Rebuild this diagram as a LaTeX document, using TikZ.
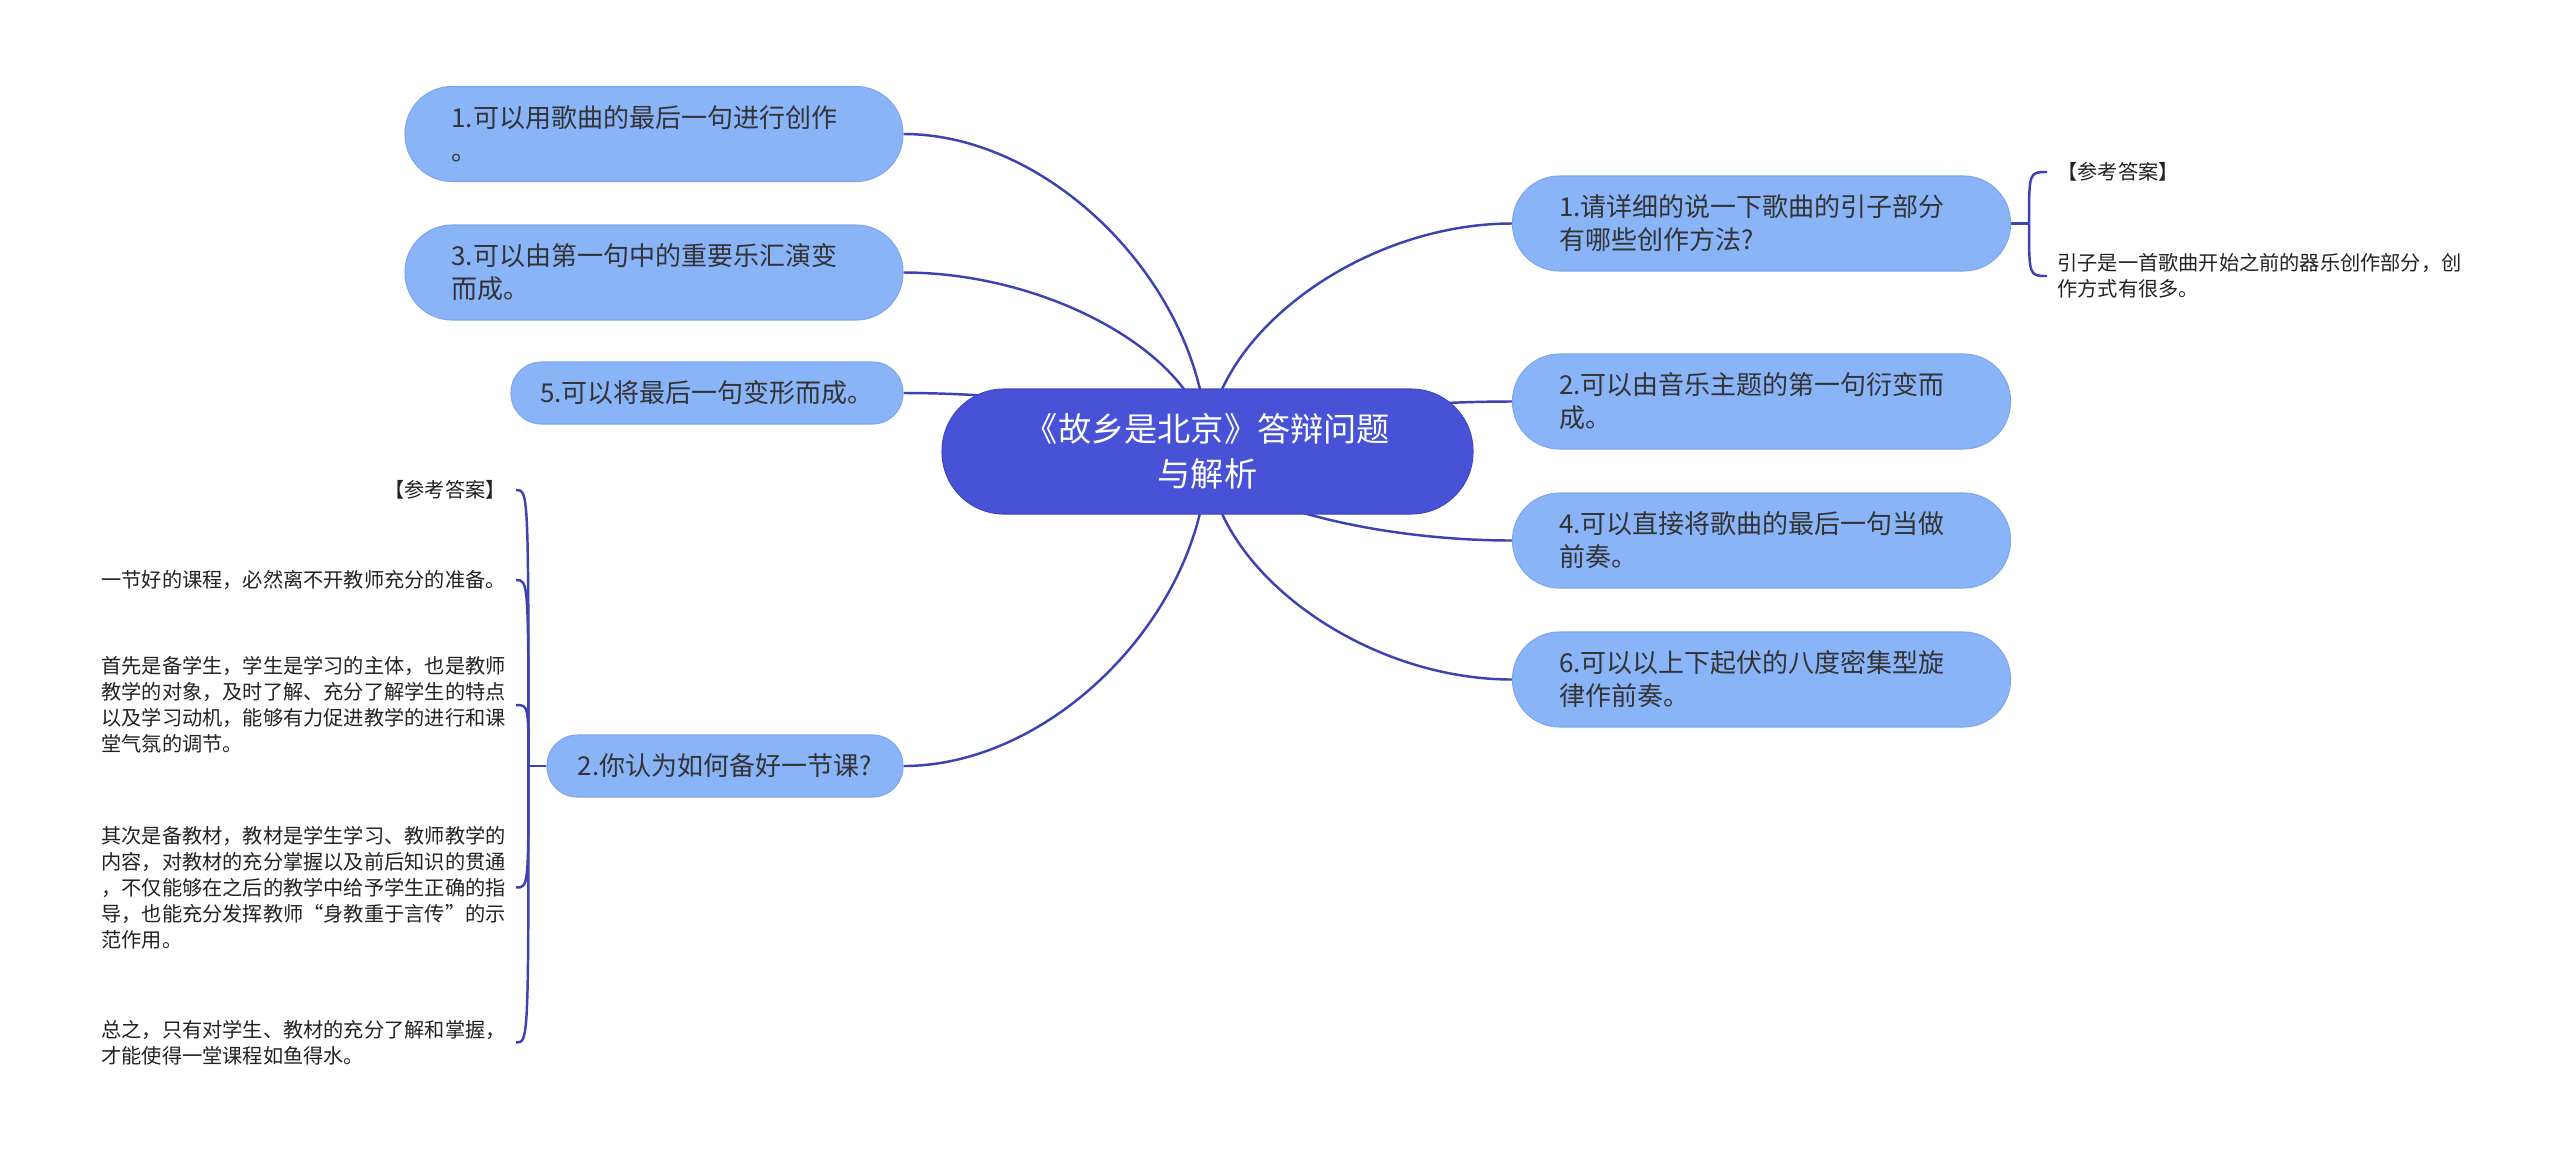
\documentclass[tikz,border=0pt]{standalone}
\usepackage{fontspec}
\newfontfamily\cjk{Noto Sans CJK SC}
\usetikzlibrary{positioning,calc,backgrounds}
\definecolor{rootfill}{HTML}{4752D6}
\definecolor{rootline}{HTML}{3E48C2}
\definecolor{topicfill}{HTML}{8AB4F8}
\definecolor{topicline}{HTML}{7EA6EC}
\definecolor{linkblue}{HTML}{3B43B3}
\definecolor{textgray}{HTML}{333333}
\definecolor{notegray}{HTML}{222222}

\tikzset{
  mainidea/.style={draw=rootline, fill=rootfill, line width=0.6pt, rounded corners=1.24cm,
    minimum width=10.62cm, minimum height=2.5cm, text=white, align=center,
    font=\cjk\fontsize{18.9}{25.6}\selectfont},
  topic/.style={draw=topicline, fill=topicfill, line width=0.6pt, rounded corners=0.94cm,
    minimum width=9.96cm, minimum height=1.9cm, text width=8.1cm, align=left, inner sep=0pt,
    text=textgray, font=\cjk\fontsize{14.8}{18.8}\selectfont},
  pill/.style={rounded corners=0.61cm, minimum height=1.24cm, align=center},
  note/.style={inner sep=0.2cm, align=left, text=notegray, font=\cjk\fontsize{11.5}{14.8}\selectfont},
  link/.style={draw=linkblue, line width=1.4pt},
  branch/.style={to path={.. controls ($(\tikztostart)!0.5!(\tikztostart|-\tikztotarget)$)
    and ($(\tikztotarget)!0.5!(\tikztostart|-\tikztotarget)$) .. (\tikztotarget)}},
  bracehook/.style={to path={.. controls (\tikztostart|-\tikztotarget)
    and (\tikztostart|-\tikztotarget) .. (\tikztotarget)}}
}

\begin{document}
\begin{tikzpicture}
    \useasboundingbox (0,0) rectangle (51.2,-23.34);

    % centre
    \node[mainidea] (root) at (24.15,-9.03) {《故乡是北京》答辩问题\\与解析};

    % left topics
    \node[topic] (l1) at (13.08,-2.68) {1.可以用歌曲的最后一句进行创作\\。};
    \node[topic] (l3) at (13.08,-5.45) {3.可以由第一句中的重要乐汇演变\\而成。};
    \node[topic, pill, minimum width=7.84cm, text width=7.2cm] (l5) at (14.14,-7.86) {5.可以将最后一句变形而成。};
    \node[topic, pill, minimum width=7.12cm, text width=6.5cm] (q2) at (14.5,-15.32) {2.你认为如何备好一节课?};

    % right topics
    \node[topic] (r1) at (35.23,-4.47) {1.请详细的说一下歌曲的引子部分\\有哪些创作方法?};
    \node[topic] (r2) at (35.23,-8.03) {2.可以由音乐主题的第一句衍变而\\成。};
    \node[topic] (r4) at (35.23,-10.81) {4.可以直接将歌曲的最后一句当做\\前奏。};
    \node[topic] (r6) at (35.23,-13.59) {6.可以以上下起伏的八度密集型旋\\律作前奏。};

    % answers of q2
    \node[note, anchor=east] (a0) at (10.32,-9.8) {【参考答案】};
    \node[note, anchor=east] (a1) at (10.32,-11.6) {一节好的课程，必然离不开教师充分的准备。};
    \node[note, anchor=east] (a2) at (10.32,-14.1) {首先是备学生，学生是学习的主体，也是教师\\教学的对象，及时了解、充分了解学生的特点\\以及学习动机，能够有力促进教学的进行和课\\堂气氛的调节。};
    \node[note, anchor=east] (a3) at (10.32,-17.75) {其次是备教材，教材是学生学习、教师教学的\\内容，对教材的充分掌握以及前后知识的贯通\\，不仅能够在之后的教学中给予学生正确的指\\导，也能充分发挥教师“身教重于言传”的示\\范作用。};
    \node[note, anchor=east] (a4) at (10.32,-20.85) {总之，只有对学生、教材的充分了解和掌握，\\才能使得一堂课程如鱼得水。};

    % answers of r1
    \node[note, anchor=west] (b0) at (40.94,-3.44) {【参考答案】};
    \node[note, anchor=west] (b1) at (40.94,-5.52) {引子是一首歌曲开始之前的器乐创作部分，创\\作方式有很多。};

    \coordinate (jl) at ($(q2.west)+(-0.36,0)$);
    \coordinate (jr) at ($(r1.east)+(0.36,0)$);

    \begin{scope}[on background layer]
        \fill[white] (0,0) rectangle (51.2,-23.34);
        \foreach \t in {l1,l3,l5,q2}
            \draw[link] (root.center) to[branch] (\t.east);
        \foreach \t in {r1,r2,r4,r6}
            \draw[link] (root.center) to[branch] (\t.west);
        % brackets
        \draw[link] (q2.west) -- (jl);
        \foreach \t in {a0,a1,a2,a3,a4}
            \draw[link] (jl) to[bracehook] (\t.east);
        \draw[link] (r1.east) -- (jr);
        \foreach \t in {b0,b1}
            \draw[link] (jr) to[bracehook] (\t.west);
    \end{scope}
\end{tikzpicture}
\end{document}
